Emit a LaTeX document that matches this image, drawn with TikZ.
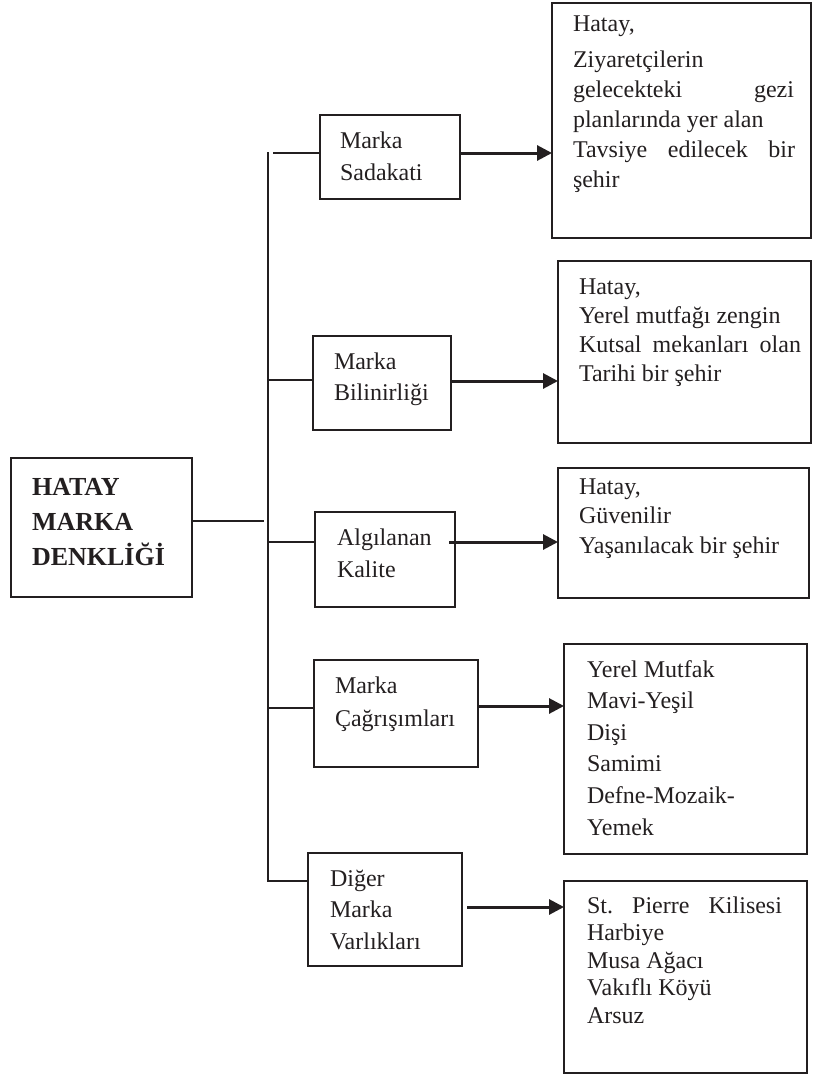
\documentclass[tikz,border=0pt]{standalone}
\usepackage{fontspec}
\setmainfont{Liberation Serif}
\usetikzlibrary{arrows.meta}
\definecolor{ink}{RGB}{35,31,32}
% multi-line text block: #1 = baselineskip, #2 = lines
\newcommand\blocklines[2]{\parbox[t]{240pt}{\fontsize{24}{#1}\selectfont\raggedright\leavevmode #2}}
% a line spread out to a given width
\newcommand\spreadline[2]{\leavevmode\hbox to #1{#2}}

\begin{document}
\begin{tikzpicture}[x=1pt,y=-1pt,
  box/.style={draw=ink, line width=1.8pt, anchor=north west, inner sep=0pt, outer sep=0pt},
  txt/.style={anchor=base west, inner sep=0pt, outer sep=0pt, text=ink},
  link/.style={draw=ink, line width=1.8pt},
  arr/.style={draw=ink, line width=3pt, -{Triangle[length=15pt,width=15pt]}}]
\useasboundingbox (0,0) rectangle (812,1077);

% main concept
\node[box, minimum width=181pt, minimum height=139pt] (hatay) at (11,458) {};
\node[txt] (thatay) at (32,495) {\parbox[t]{170pt}{\fontsize{26}{35}\selectfont\bfseries HATAY\\MARKA\\DENKLİĞİ}};

% dimensions
\node[box, minimum width=140pt, minimum height=84pt]  (sad) at (320,115) {};
\node[box, minimum width=138pt, minimum height=94pt]  (bil) at (313,336) {};
\node[box, minimum width=140pt, minimum height=95pt]  (alg) at (315,512) {};
\node[box, minimum width=164pt, minimum height=107pt] (cag) at (314,660) {};
\node[box, minimum width=154pt, minimum height=113pt] (dig) at (308,853) {};

\node[txt] (tsad) at (340,148) {\blocklines{32}{Marka\\Sadakati}};
\node[txt] (tbil) at (334,369) {\blocklines{31}{Marka\\Bilinirliği}};
\node[txt] (talg) at (337,545) {\blocklines{32}{Algılanan\\Kalite}};
\node[txt] (tcag) at (335,693) {\blocklines{33}{Marka\\Çağrışımları}};
\node[txt] (tdig) at (330,886) {\blocklines{31.5}{Diğer\\Marka\\Varlıkları}};

% results
\node[box, minimum width=259pt, minimum height=235pt] (r1) at (552,3) {};
\node[box, minimum width=253pt, minimum height=182pt] (r2) at (558,261) {};
\node[box, minimum width=251pt, minimum height=130pt] (r3) at (558,468) {};
\node[box, minimum width=243pt, minimum height=210pt] (r4) at (564,644) {};
\node[box, minimum width=243pt, minimum height=192pt] (r5) at (564,881) {};

\node[txt] (tr1) at (573,31) {\blocklines{30}{Hatay,\\[6pt]
  Ziyaretçilerin\\
  \spreadline{221pt}{gelecekteki\hfill gezi}\\
  planlarında yer alan\\
  \spreadline{222pt}{Tavsiye\hfill edilecek\hfill bir}\\
  şehir}};
\node[txt] (tr2) at (579,294) {\blocklines{29.3}{Hatay,\\
  Yerel mutfağı zengin\\
  \spreadline{222pt}{Kutsal\hfill mekanları\hfill olan}\\
  Tarihi bir şehir}};
\node[txt] (tr3) at (579,494) {\blocklines{29.5}{Hatay,\\Güvenilir\\Yaşanılacak bir şehir}};
\node[txt] (tr4) at (587,677) {\blocklines{31.6}{Yerel Mutfak\\Mavi-Yeşil\\Dişi\\Samimi\\Defne-Mozaik-\\Yemek}};
\node[txt] (tr5) at (587,913) {\blocklines{27.5}{\spreadline{195pt}{St.\hfill Pierre\hfill Kilisesi}\\
  Harbiye\\Musa Ağacı\\Vakıflı Köyü\\Arsuz}};

% trunk and branch levels
\coordinate (trunkTop) at (268,152);
\coordinate (trunkBot) at (268,881);
\coordinate (hEnd) at (264,521);
\coordinate (s1start) at (273,153);
\coordinate (y1) at (0,153);
\coordinate (y2) at (0,381);
\coordinate (y2s) at (0,380);
\coordinate (y3) at (0,542);
\coordinate (y4) at (0,706);
\coordinate (y4s) at (0,708);
\coordinate (y5) at (0,907);

\draw[link] (hatay.east |- hEnd) -- (hEnd);
\draw[link] (trunkTop) -- (trunkBot) -- (dig.west |- trunkBot);
\draw[link] (s1start) -- (sad.west |- s1start);
\draw[link] (trunkTop |- y2s) -- (bil.west |- y2s);
\draw[link] (trunkTop |- y3) -- (alg.west |- y3);
\draw[link] (trunkTop |- y4s) -- (cag.west |- y4s);

% arrows to results
\draw[arr] (sad.east |- y1) -- (r1.west |- y1);
\draw[arr] (bil.east |- y2) -- (r2.west |- y2);
\draw[arr] ([xshift=-6pt]alg.east |- y3) -- (r3.west |- y3);
\draw[arr] (cag.east |- y4) -- (r4.west |- y4);
\draw[arr] ([xshift=5pt]dig.east |- y5) -- (r5.west |- y5);
\end{tikzpicture}
\end{document}
